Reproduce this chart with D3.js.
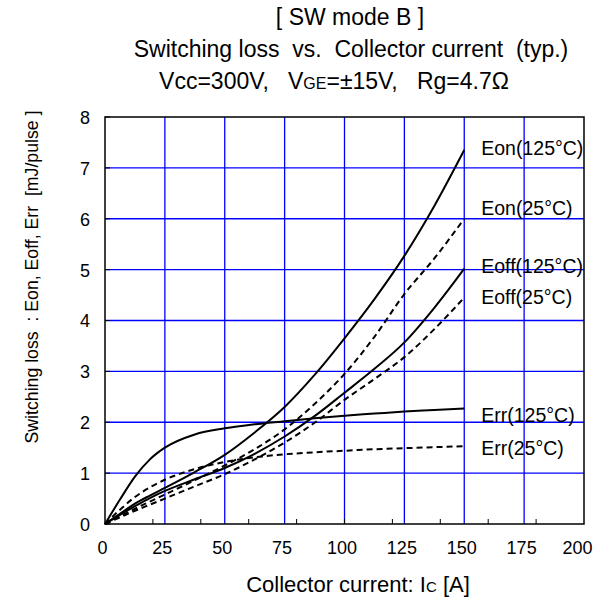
<!DOCTYPE html>
<html>
<head>
<meta charset="utf-8">
<script src="https://cdn.jsdelivr.net/npm/d3@7"></script>
<style>
  body { margin: 0; background: #fff; }
  text { font-family: "Liberation Sans", Arial, sans-serif; fill: #000; }
</style>
</head>
<body>
<div id="chart"></div>
<script>
// collector current [A]
var current = [0, 6.25, 12.5, 18.75, 25, 37.5, 50, 62.5, 75, 87.5, 100, 112.5, 125, 137.5, 150];
// switching loss [mJ/pulse]
var eon125 = [0, 0.2, 0.4, 0.56, 0.71, 1.02, 1.36, 1.8, 2.3, 2.93, 3.65, 4.42, 5.27, 6.25, 7.35];
var eon25 = [0, 0.15, 0.3, 0.44, 0.58, 0.86, 1.15, 1.47, 1.86, 2.36, 2.95, 3.68, 4.52, 5.22, 6.0];
var eoff125 = [0, 0.18, 0.35, 0.51, 0.65, 0.88, 1.1, 1.38, 1.72, 2.12, 2.58, 3.05, 3.57, 4.25, 5.02];
var eoff25 = [0, 0.13, 0.26, 0.38, 0.5, 0.74, 0.98, 1.27, 1.6, 1.99, 2.44, 2.85, 3.28, 3.83, 4.45];
var err125 = [0, 0.48, 0.93, 1.27, 1.5, 1.76, 1.88, 1.96, 2.02, 2.08, 2.13, 2.17, 2.21, 2.24, 2.27];
var err25 = [0, 0.28, 0.53, 0.72, 0.87, 1.08, 1.22, 1.31, 1.37, 1.41, 1.44, 1.47, 1.49, 1.51, 1.53];

var xTicks = [0, 25, 50, 75, 100, 125, 150, 175, 200];
var yTicks = [0, 1, 2, 3, 4, 5, 6, 7, 8];
var xMinor = [20, 40, 60, 80, 100, 120, 140, 160, 180];

var series = [
  { name: "Eon(125°C)", values: eon125, dash: false, labelY: 7.39 },
  { name: "Eon(25°C)", values: eon25, dash: true, labelY: 6.21 },
  { name: "Eoff(125°C)", values: eoff125, dash: false, labelY: 5.08 },
  { name: "Eoff(25°C)", values: eoff25, dash: true, labelY: 4.47 },
  { name: "Err(125°C)", values: err125, dash: false, labelY: 2.15 },
  { name: "Err(25°C)", values: err25, dash: true, labelY: 1.5 }
];

var width = 598, height = 603;
var padding = { top: 117, right: 14, bottom: 79, left: 105 };

var svg = d3.select("#chart").append("svg")
    .attr("width", width)
    .attr("height", height);

var xScale = d3.scaleLinear().domain([0, 200]).range([padding.left, width - padding.right]);
var yScale = d3.scaleLinear().domain([0, 8]).range([height - padding.bottom, padding.top]);

// grid
svg.append("g").selectAll("line")
    .data(xTicks.slice(1, -1))
    .enter().append("line")
    .attr("x1", function(d) { return xScale(d); })
    .attr("x2", function(d) { return xScale(d); })
    .attr("y1", yScale(0)).attr("y2", yScale(8))
    .attr("stroke", "#0000ff").attr("stroke-width", 1.3);
svg.append("g").selectAll("line")
    .data(yTicks.slice(1, -1))
    .enter().append("line")
    .attr("x1", xScale(0)).attr("x2", xScale(200))
    .attr("y1", function(d) { return yScale(d); })
    .attr("y2", function(d) { return yScale(d); })
    .attr("stroke", "#0000ff").attr("stroke-width", 1.3);

// axes
var xAxis = d3.axisBottom(xScale).tickValues(xTicks).tickSize(0).tickPadding(17);
var yAxis = d3.axisLeft(yScale).tickValues(yTicks).tickSize(0).tickPadding(15);

var gx = svg.append("g")
    .attr("transform", "translate(0," + yScale(0) + ")")
    .call(xAxis);
var gy = svg.append("g")
    .attr("transform", "translate(" + xScale(0) + ",0)")
    .call(yAxis);
[gx, gy].forEach(function(g) {
  g.select(".domain").remove();
  g.selectAll("text").attr("font-size", 18).attr("font-family", "Liberation Sans, Arial, sans-serif");
});
gx.selectAll("text").attr("dx", function(d) { return d == 200 ? -7 : -3; });
gy.selectAll("text").attr("dy", "0.36em");

// inward ticks
svg.append("g").selectAll("line")
    .data(xMinor)
    .enter().append("line")
    .attr("x1", function(d) { return xScale(d); })
    .attr("x2", function(d) { return xScale(d); })
    .attr("y1", yScale(0)).attr("y2", yScale(0) - 5)
    .attr("stroke", "#000").attr("stroke-width", 1);
svg.append("g").selectAll("line")
    .data(yTicks)
    .enter().append("line")
    .attr("x1", xScale(0)).attr("x2", xScale(0) + 5)
    .attr("y1", function(d) { return yScale(d); })
    .attr("y2", function(d) { return yScale(d); })
    .attr("stroke", "#000").attr("stroke-width", 1);

// frame
svg.append("rect")
    .attr("x", xScale(0)).attr("y", yScale(8))
    .attr("width", xScale(200) - xScale(0))
    .attr("height", yScale(0) - yScale(8))
    .attr("fill", "none").attr("stroke", "#000").attr("stroke-width", 1.5);

// curves
var line = d3.line()
    .x(function(d) { return xScale(d[0]); })
    .y(function(d) { return yScale(d[1]); })
    .curve(d3.curveMonotoneX);

series.forEach(function(s) {
  svg.append("path")
      .attr("d", line(current.map(function(c, i) { return [c, s.values[i]]; })))
      .attr("fill", "none")
      .attr("stroke", "#000")
      .attr("stroke-width", 2)
      .attr("stroke-dasharray", s.dash ? "6,4" : null);
  svg.append("text")
      .attr("x", xScale(150) + 17)
      .attr("y", yScale(s.labelY))
      .attr("dy", "0.36em")
      .attr("font-size", 19.5)
      .text(s.name);
});

// titles
svg.append("text").attr("x", 350).attr("y", 25).attr("text-anchor", "middle")
    .attr("font-size", 23).attr("xml:space", "preserve")
    .text("[ SW mode B ]");
svg.append("text").attr("x", 351).attr("y", 57).attr("text-anchor", "middle")
    .attr("font-size", 23).attr("xml:space", "preserve")
    .text("Switching loss  vs.  Collector current  (typ.)");
var t3 = svg.append("text").attr("x", 334).attr("y", 89).attr("text-anchor", "middle")
    .attr("font-size", 23).attr("xml:space", "preserve");
t3.append("tspan").text("Vcc=300V,   V");
t3.append("tspan").attr("font-size", 16).text("GE");
t3.append("tspan").text("=±15V,   Rg=4.7Ω");

var xt = svg.append("text").attr("x", 358).attr("y", 592).attr("text-anchor", "middle")
    .attr("font-size", 22);
xt.append("tspan").text("Collector current: I");
xt.append("tspan").attr("font-size", 15).text("C");
xt.append("tspan").text(" [A]");

svg.append("text")
    .attr("transform", "translate(38,277) rotate(-90)")
    .attr("text-anchor", "middle")
    .attr("font-size", 17.7)
    .attr("xml:space", "preserve")
    .text("Switching loss  : Eon, Eoff, Err  [mJ/pulse ]");
</script>
</body>
</html>
